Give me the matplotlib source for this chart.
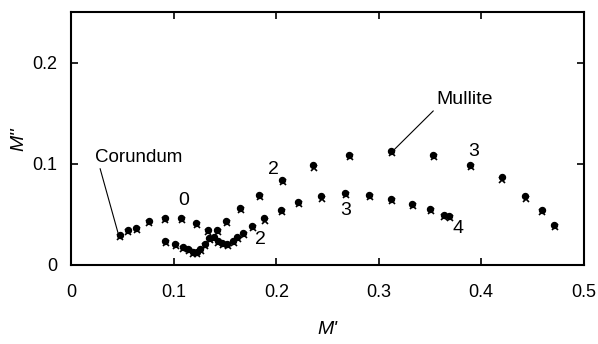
import matplotlib
matplotlib.use("Agg")
import matplotlib.pyplot as plt
from matplotlib.transforms import offset_copy

plt.rcParams['font.family'] = ['Liberation Sans', 'DejaVu Sans']

# upper branch: Corundum -> Mullite
upper_x = [0.047, 0.055, 0.063, 0.0755, 0.091, 0.107, 0.122, 0.133, 0.142, 0.151,
           0.1645, 0.183, 0.206, 0.236, 0.271, 0.312, 0.353, 0.389, 0.420, 0.443,
           0.459, 0.471]
upper_y = [0.030, 0.0347, 0.037, 0.0436, 0.0463, 0.0463, 0.042, 0.0347, 0.035, 0.044,
           0.056, 0.069, 0.084, 0.0985, 0.109, 0.113, 0.109, 0.099, 0.0866, 0.0678,
           0.0545, 0.0397]

# lower branch
lower_x = [0.0916, 0.101, 0.1085, 0.1137, 0.1185, 0.1223, 0.126, 0.130, 0.1346, 0.139,
           0.1429, 0.147, 0.152, 0.158, 0.162, 0.168, 0.1765, 0.1885, 0.2046, 0.2214,
           0.2438, 0.267, 0.2906, 0.312, 0.3325, 0.350, 0.3635, 0.369]
lower_y = [0.024, 0.0208, 0.0175, 0.0155, 0.0132, 0.0126, 0.0155, 0.0205, 0.0264, 0.0274,
           0.0241, 0.022, 0.0205, 0.024, 0.0274, 0.0314, 0.0387, 0.046, 0.0545, 0.0628,
           0.0678, 0.071, 0.0694, 0.0655, 0.0605, 0.0552, 0.0496, 0.0486]

# numeric labels along the curves
num_labels = ['0', '2', '2', '3', '3', '4']
num_x = [0.110, 0.197, 0.185, 0.268, 0.393, 0.377]
num_y = [0.0635, 0.094, 0.0255, 0.054, 0.1125, 0.0364]

fig = plt.figure(figsize=(5.98, 3.44), dpi=100)
ax = fig.add_axes([0.1194, 0.2297, 0.8565, 0.7345])

cross_tr = offset_copy(ax.transData, fig=fig, x=0.5, y=-1.5, units='points')
for xs, ys in [(upper_x, upper_y), (lower_x, lower_y)]:
    ax.plot(xs, ys, 'o', color='black', ms=4.3, mec='black', zorder=3)
    ax.plot(xs, ys, 'x', color='black', ms=4, mew=1.2, transform=cross_tr, zorder=3)

for t, x, y in zip(num_labels, num_x, num_y):
    ax.text(x, y, t, fontsize=14, ha='center', va='center')

ax.annotate('Corundum', xy=(0.0456, 0.0314), xytext=(0.023, 0.1065),
            fontsize=13.5, ha='left', va='center',
            arrowprops=dict(arrowstyle='-', color='black', lw=0.8,
                            shrinkA=0, shrinkB=0, relpos=(0.05, 0.0)))
ax.annotate('Mullite', xy=(0.315, 0.114), xytext=(0.356, 0.1636),
            fontsize=14, ha='left', va='center',
            arrowprops=dict(arrowstyle='-', color='black', lw=0.8,
                            shrinkA=0, shrinkB=0, relpos=(0.0, 0.0)))

ax.set_xlim(0, 0.5)
ax.set_ylim(0, 0.25)
ax.set_xticks([0, 0.1, 0.2, 0.3, 0.4, 0.5])
ax.set_xticklabels(['0', '0.1', '0.2', '0.3', '0.4', '0.5'])
ax.set_yticks([0, 0.1, 0.2])
ax.set_yticklabels(['0', '0.1', '0.2'])
ax.tick_params(direction='in', length=5, width=1.2, top=True, right=True,
               labelsize=13)
ax.tick_params(axis='x', pad=14)
ax.tick_params(axis='y', pad=10)
for s in ax.spines.values():
    s.set_linewidth(1.5)

ax.set_xlabel("M'", fontsize=14, style='italic', labelpad=14)
ax.set_ylabel("M''", fontsize=14, style='italic', labelpad=4)

fig.savefig('out.png', dpi=100)
